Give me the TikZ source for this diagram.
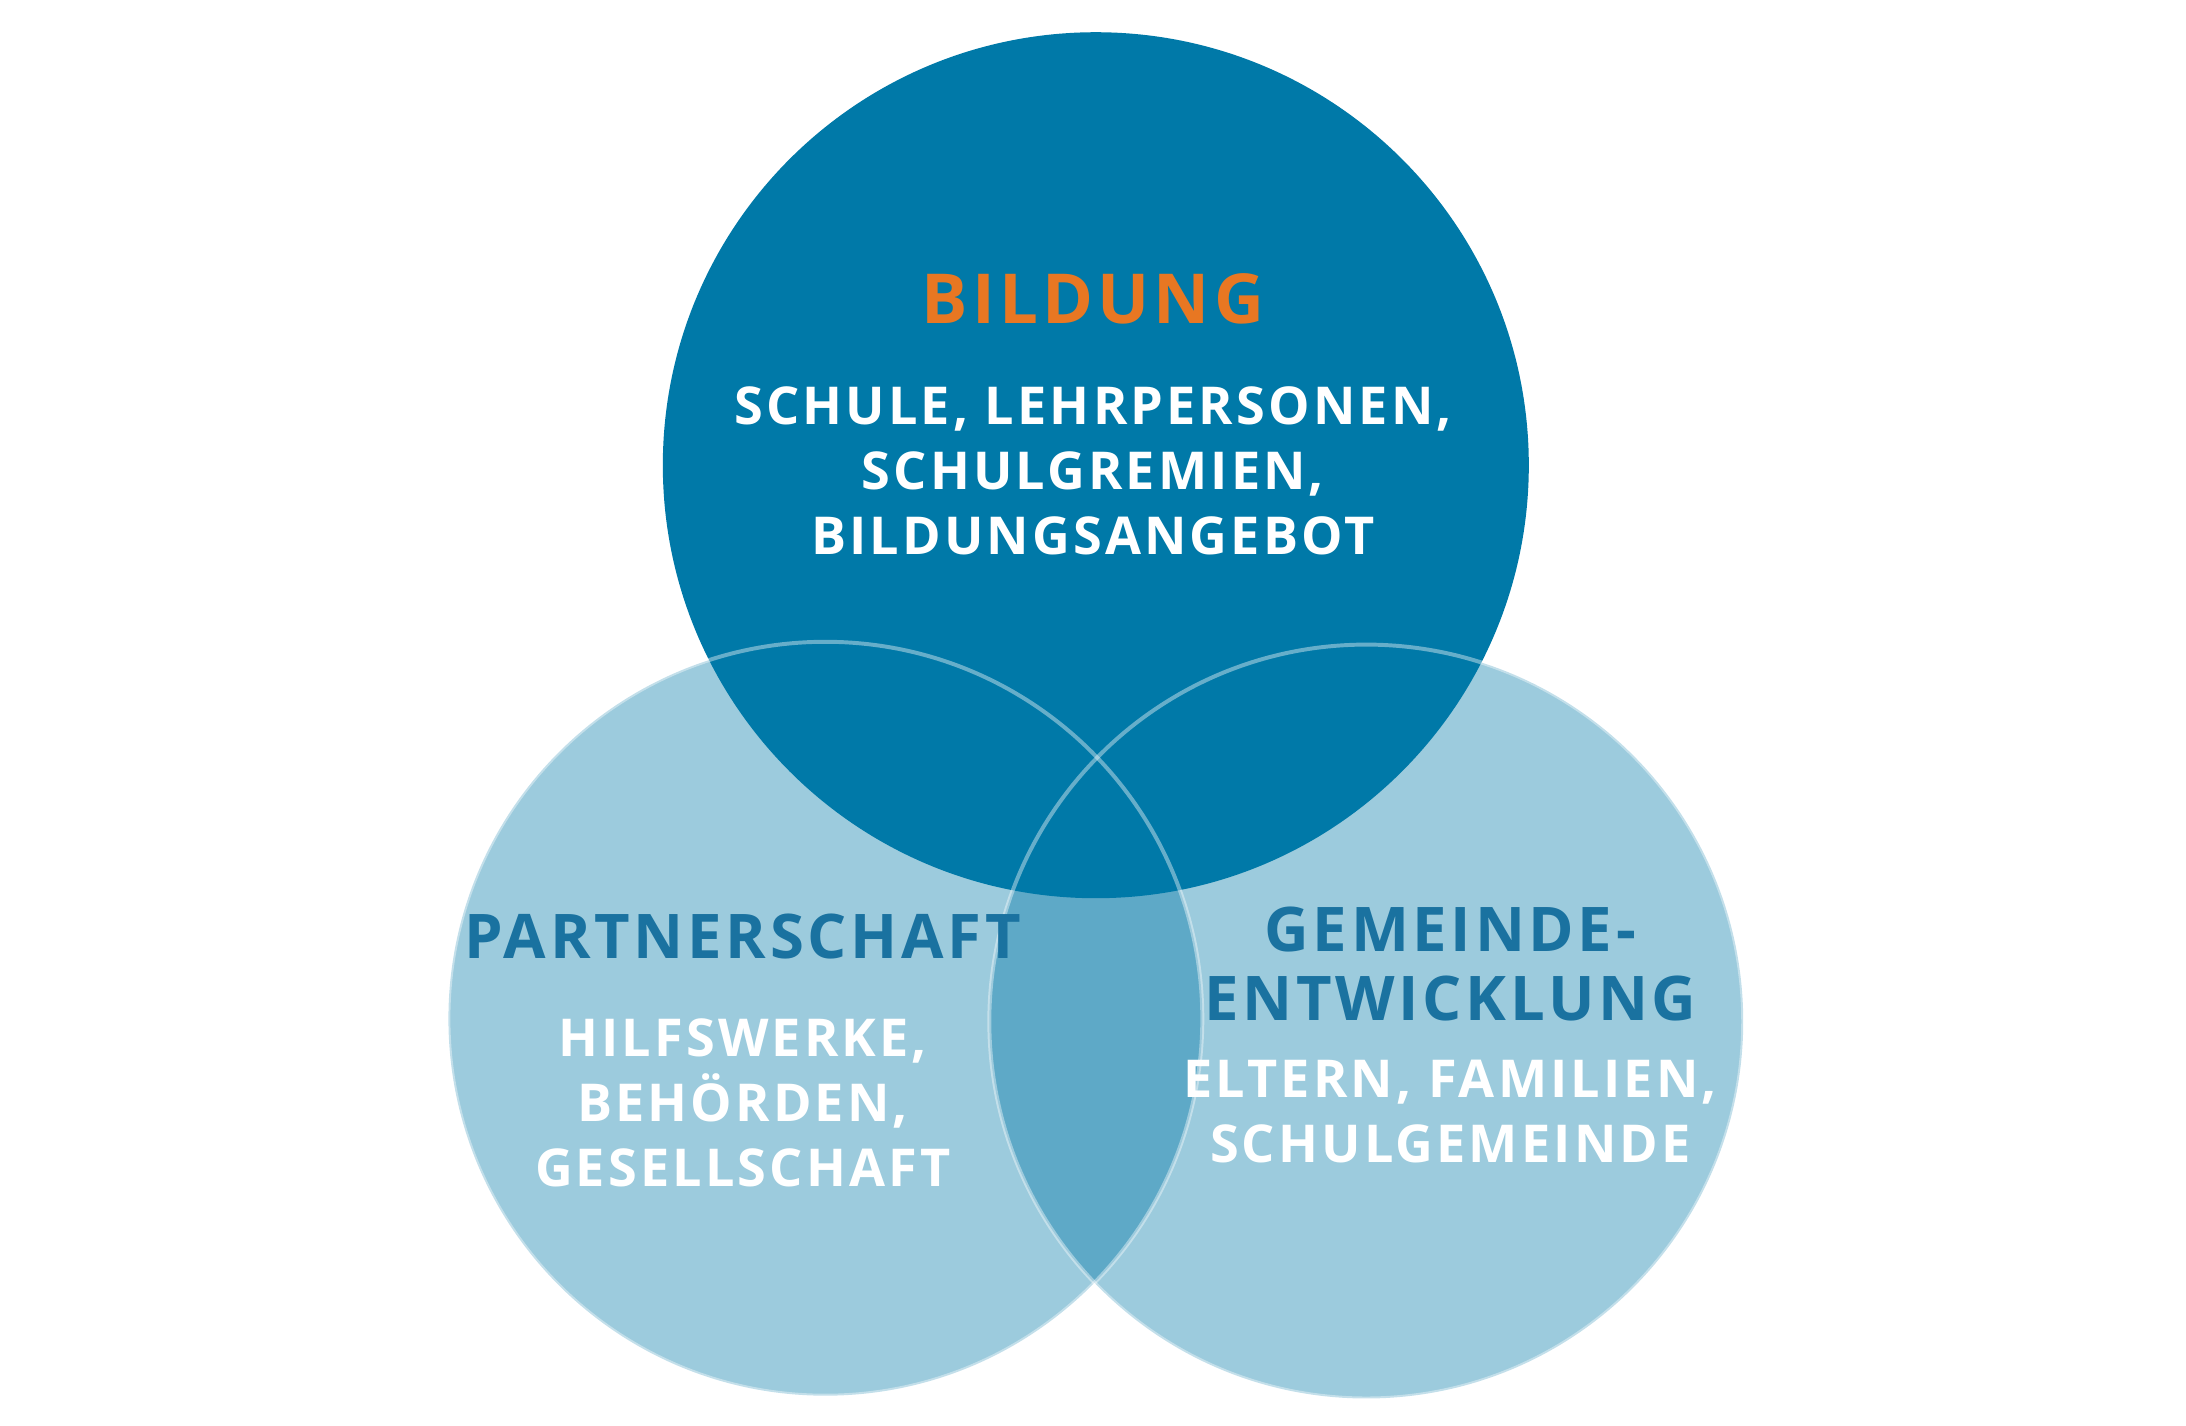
\documentclass[tikz,border=0pt]{standalone}
\usepackage{fontspec}
\setmainfont{Open Sans}[LetterSpace=6]
\definecolor{dark}{HTML}{0079A8}
\definecolor{light}{HTML}{9CCBDD}
\definecolor{lens}{HTML}{5EA9C7}
\definecolor{orng}{HTML}{E87722}
\definecolor{hblue}{HTML}{1A72A0}
\tikzset{
  big/.style={font=\bfseries\fontsize{14}{16}\selectfont},
  sub/.style={font=\bfseries\fontsize{10.6}{13.2}\selectfont, align=center},
  rim/.style={draw=white, draw opacity=0.4, line width=0.8pt}
}
\begin{document}
\begin{tikzpicture}
\useasboundingbox (0,0) rectangle (15.6,-10.17);
\coordinate (T) at (7.82,-3.32);
\coordinate (L) at (5.89,-7.27);
\coordinate (R) at (9.75,-7.29);
\fill[light] (L) circle (2.69);
\fill[light] (R) circle (2.69);
\begin{scope}
\clip (L) circle (2.69);
\fill[lens] (R) circle (2.69);
\end{scope}
\fill[dark] (T) circle (3.09);
\draw[rim] (L) circle (2.69);
\draw[rim] (R) circle (2.69);
\node[big, text=orng] (b) at (7.80,-2.13) {BILDUNG};
\node[sub, text=white] (bt) at (7.80,-3.36) {SCHULE, LEHRPERSONEN,\\SCHULGREMIEN,\\BILDUNGSANGEBOT};
\node[sub, text=hblue, font=\bfseries\fontsize{12.5}{14}\selectfont] (p) at (5.30,-6.68) {PARTNERSCHAFT};
\node[sub, text=white] (pt) at (5.30,-7.87) {HILFSWERKE,\\BEHÖRDEN,\\GESELLSCHAFT};
\node[sub, text=hblue, font=\bfseries\fontsize{12.5}{14}\selectfont] (g) at (10.35,-6.88) {GEMEINDE-\\ENTWICKLUNG};
\node[sub, text=white] (gt) at (10.35,-7.93) {ELTERN, FAMILIEN,\\SCHULGEMEINDE};
\end{tikzpicture}
\end{document}
